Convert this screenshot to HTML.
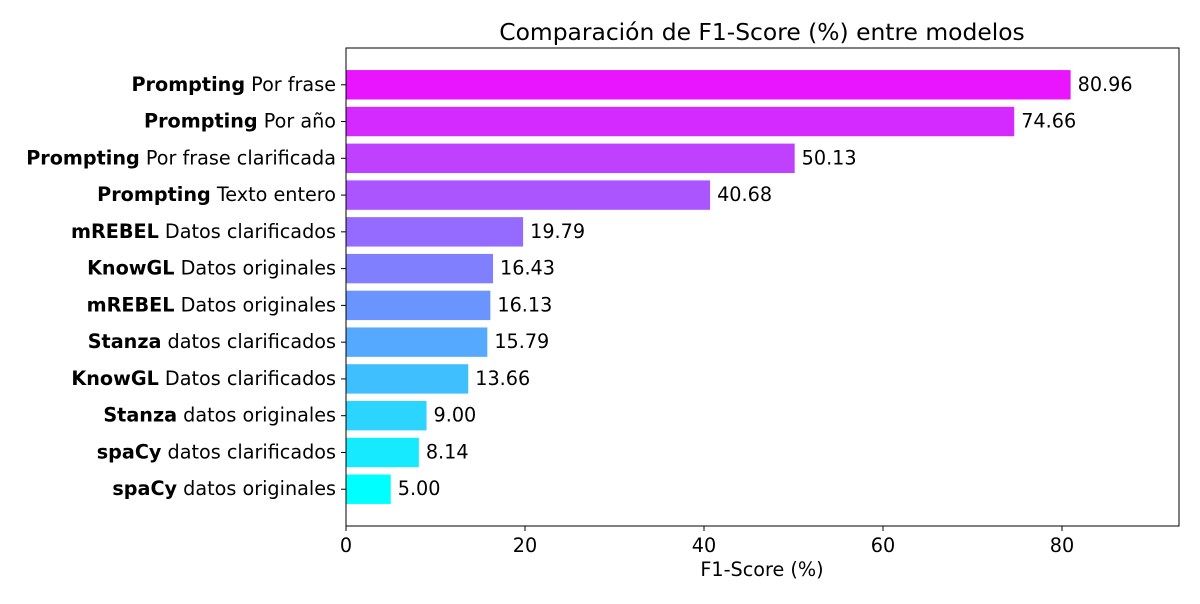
<!DOCTYPE html>
<html><head><meta charset="utf-8"><style>
body{margin:0;background:#fff;font-family:"DejaVu Sans","Liberation Sans",sans-serif}
</style></head><body>
<svg id="chart" width="1200" height="600" xmlns="http://www.w3.org/2000/svg" font-family="DejaVu Sans, Liberation Sans, sans-serif">
<text x="762" y="40" font-size="23.4" text-anchor="middle">Comparación de F1-Score (%) entre modelos</text>
<g id="bars"></g>
<rect x="346" y="48" width="833" height="478" fill="none" stroke="#000" stroke-width="1"/>
<g id="xticks"></g>
<text x="762" y="576" font-size="19.2" text-anchor="middle">F1-Score (%)</text>
</svg>
<script>
const models = ["spaCy","spaCy","Stanza","KnowGL","Stanza","mREBEL","KnowGL","mREBEL","Prompting","Prompting","Prompting","Prompting"];
const variants = ["datos originales","datos clarificados","datos originales","Datos clarificados","datos clarificados","Datos originales","Datos originales","Datos clarificados","Texto entero","Por frase clarificada","Por año","Por frase"];
const values = [5.00,8.14,9.00,13.66,15.79,16.13,16.43,19.79,40.68,50.13,74.66,80.96];
const xTicks = [0,20,40,60,80];
const NS="http://www.w3.org/2000/svg";
const L=346,R=1179,T=48,B=526,XMAX=93.07,FS='19.2';
const xs=v=>L+v/XMAX*(R-L);
const ys=i=>B-(i+1)*(B-T)/13;
const bw=(B-T)/13*0.8;
const bars=document.getElementById('bars');
values.forEach((v,i)=>{
  const t=i/12;
  const r=document.createElementNS(NS,'rect');
  r.setAttribute('x',xs(0));r.setAttribute('y',ys(i)-bw/2);
  r.setAttribute('width',xs(v)-xs(0));r.setAttribute('height',bw);
  r.setAttribute('fill',`rgb(${Math.round(255*t)},${Math.round(255*(1-t))},255)`);
  
  
  bars.appendChild(r);
  const vt=document.createElementNS(NS,'text');
  vt.setAttribute('x',xs(v)+7);vt.setAttribute('y',ys(i)+6);vt.setAttribute('font-size',FS);
  vt.textContent=v.toFixed(2);
  
  
  bars.appendChild(vt);
  const lt=document.createElementNS(NS,'text');
  lt.setAttribute('x',L-10);lt.setAttribute('y',ys(i)+6);lt.setAttribute('font-size',FS);lt.setAttribute('text-anchor','end');
  lt.innerHTML=`<tspan font-weight="bold">${models[i]}</tspan> ${variants[i]}`;
  
  
  bars.appendChild(lt);
  const tk=document.createElementNS(NS,'line');
  tk.setAttribute('x1',L-5);tk.setAttribute('x2',L);tk.setAttribute('y1',ys(i));tk.setAttribute('y2',ys(i));tk.setAttribute('stroke','#000');
  
  
  bars.appendChild(tk);
});
const xt=document.getElementById('xticks');
xTicks.forEach(v=>{
  const tk=document.createElementNS(NS,'line');
  tk.setAttribute('x1',xs(v));tk.setAttribute('x2',xs(v));tk.setAttribute('y1',B);tk.setAttribute('y2',B+5);tk.setAttribute('stroke','#000');
  
  
  xt.appendChild(tk);
  const t=document.createElementNS(NS,'text');
  t.setAttribute('x',xs(v));t.setAttribute('y',B+26);t.setAttribute('font-size',FS);t.setAttribute('text-anchor','middle');
  t.textContent=v;
  
  
  xt.appendChild(t);
});
</script>
</body></html>
